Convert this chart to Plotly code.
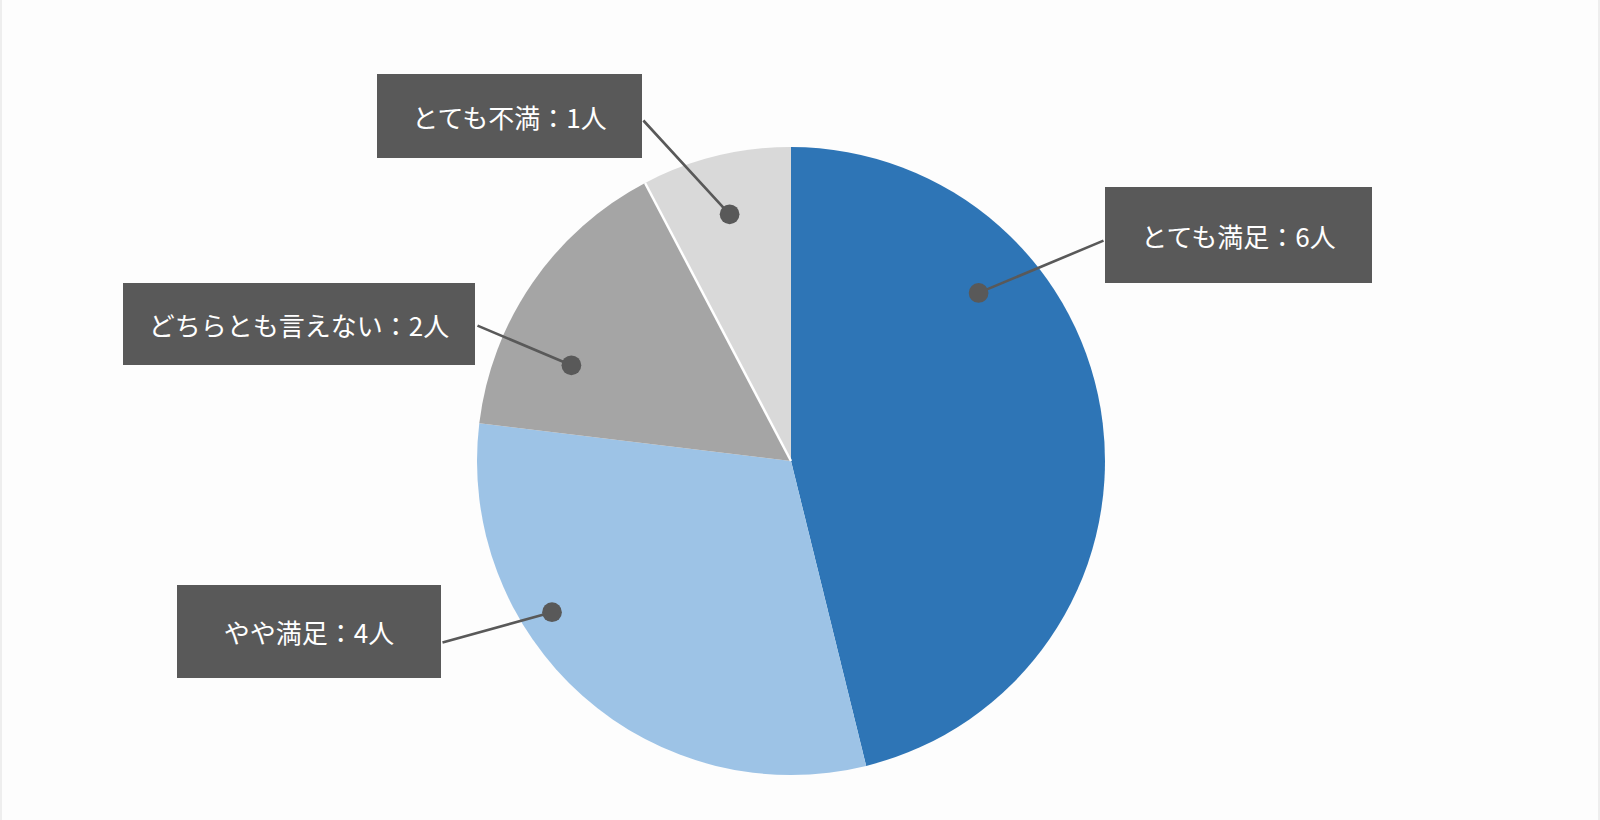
import math
import plotly.graph_objects as go

categories = ["とても満足", "やや満足", "どちらとも言えない", "とても不満"]
values = [6, 4, 2, 1]
colors = ["#2E75B6", "#9DC3E6", "#A5A5A5", "#D9D9D9"]

W, H = 1600, 820
cx, cy, R = 791, 461, 314

# label layout (pixel positions): leader dot, leader end at box, box center, box size
dot_px = [(978.6, 292.9), (552.0, 612.2), (571.4, 365.3), (729.6, 214.3)]
lead_end = [(1105, 240), (441, 643), (476, 325), (642, 119)]
box_ctr = [(1238.5, 235), (308.7, 631), (298.5, 323.5), (509, 116.3)]
box_size = [(267, 96), (264, 93), (352, 82), (265, 84)]

fig = go.Figure(go.Pie(
    labels=categories,
    values=values,
    sort=False,
    direction="clockwise",
    rotation=0,
    marker=dict(colors=colors, line=dict(width=0)),
    textinfo="none",
    hoverinfo="label+value",
    showlegend=False,
    domain=dict(x=[(cx - R) / W, (cx + R) / W], y=[(H - cy - R) / H, (H - cy + R) / H]),
))

# white separator between the two gray slices (angle derived from the data)
total = sum(values)
ang = 2 * math.pi * sum(values[:3]) / total
ex_, ey_ = cx + R * math.sin(ang), cy - R * math.cos(ang)
fig.add_shape(type="line", xref="paper", yref="paper",
              x0=cx / W, y0=1 - cy / H, x1=ex_ / W, y1=1 - ey_ / H,
              line=dict(color="white", width=2.5), layer="above")

for cat, v, (dx, dy), (ex, ey), (bx, by), (bw, bh) in zip(categories, values, dot_px, lead_end, box_ctr, box_size):
    # leader line with dot
    fig.add_annotation(
        x=dx / W, y=1 - dy / H, xref="paper", yref="paper",
        text="", showarrow=True, ax=ex - dx, ay=ey - dy,
        arrowhead=6, arrowsize=1.9, arrowwidth=2.6, arrowcolor="#595959",
        standoff=0, startstandoff=0,
    )
    # label box
    fig.add_annotation(
        x=bx / W, y=1 - by / H, xref="paper", yref="paper",
        xanchor="center", yanchor="middle",
        text=f"{cat}：{v}人", showarrow=False,
        bgcolor="#595959", borderwidth=0,
        width=bw, height=bh, borderpad=0,
        font=dict(family="Noto Sans CJK JP", size=26, color="white"),
        align="center", valign="middle",
    )

for xe in (0, 1):
    fig.add_shape(type="line", xref="paper", yref="paper", x0=xe, x1=xe, y0=0, y1=1,
                  line=dict(color="#EEEEEE", width=4), layer="above")

fig.update_layout(
    width=W, height=H,
    margin=dict(l=0, r=0, t=0, b=0),
    paper_bgcolor="#FDFDFD",
    plot_bgcolor="#FDFDFD",
)

fig.write_html("out.html", config={"displayModeBar": False},
               post_script="document.body.style.margin='0';document.body.style.padding='0';")
